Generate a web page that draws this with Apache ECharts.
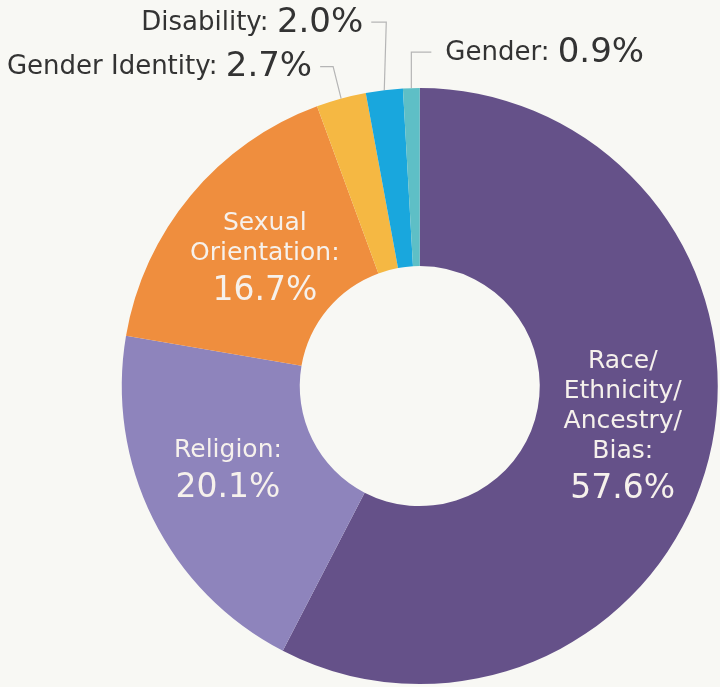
<!DOCTYPE html>
<html>
<head>
<meta charset="utf-8">
<script src="https://cdn.jsdelivr.net/npm/echarts@6/dist/echarts.min.js"></script>
<style>
html,body{margin:0;padding:0;background:#f8f8f4;}
#chart{width:720px;height:687px;}
</style>
</head>
<body>
<div id="chart"></div>
<script>
const categories = ['Race/\nEthnicity/\nAncestry/\nBias', 'Religion', 'Sexual\nOrientation', 'Gender Identity', 'Disability', 'Gender'];
const values = [57.6, 20.1, 16.7, 2.7, 2.0, 0.9];
const colors = ['#655189', '#8e84bc', '#ef8e3e', '#f5b843', '#19a7dd', '#5ebfc6'];
const outside = [false, false, false, true, true, true];

// leader line shapes for outside labels: [dx to elbow, rise, horizontal run]
const leaders = {
  3: { dx: -8, rise: 32, run: -13 },
  4: { dx: 2, rise: 68, run: -15 },
  5: { dx: 0, rise: 36, run: 20 }
};
// nudges for inside labels
const insideShift = {
  0: [-3, -7],
  1: [-2, -7],
  2: [8, 11]
};

const chart = echarts.init(document.getElementById('chart'));
const data = categories.map((c, i) => ({
  name: c,
  value: values[i],
  itemStyle: { color: colors[i] },
  label: outside[i] ? {
    position: 'outside',
    formatter: p => '{n|' + p.name + ': }{v|' + p.value.toFixed(1) + '%}',
    rich: {
      n: { fontSize: 26, color: '#333', fontFamily: 'DejaVu Sans' },
      v: { fontSize: 34, color: '#333', fontFamily: 'DejaVu Sans' }
    }
  } : {
    position: 'inside',
    formatter: p => '{n|' + p.name + ':}\n{v|' + p.value.toFixed(1) + '%}',
    rich: {
      n: { fontSize: 25, lineHeight: 30, color: '#f6f1ec', fontFamily: 'DejaVu Sans', align: 'center' },
      v: { fontSize: 33, lineHeight: 46, color: '#f6f1ec', fontFamily: 'DejaVu Sans', align: 'center' }
    }
  },
  labelLine: { show: outside[i], lineStyle: { color: '#b5b5b5', width: 1.2 } }
}));

chart.setOption({
  backgroundColor: '#f8f8f4',
  animation: false,
  series: [{
    type: 'pie',
    center: ['58.3%', '56.2%'],
    radius: [120, 298],
    startAngle: 90,
    clockwise: true,
    avoidLabelOverlap: false,
    emphasis: { disabled: true },
    data: data,
    labelLayout: function (params) {
      const sh = insideShift[params.dataIndex];
      if (sh) return { dx: sh[0], dy: sh[1] };
      const cfg = leaders[params.dataIndex];
      if (!cfg || !params.labelLinePoints) return {};
      const p0 = params.labelLinePoints[0];
      const p1 = [p0[0] + cfg.dx, p0[1] - cfg.rise];
      const p2 = [p1[0] + cfg.run, p1[1]];
      const right = cfg.run < 0;
      return {
        x: p2[0] + (right ? -8 : 14),
        y: p2[1] + 1,
        align: right ? 'right' : 'left',
        verticalAlign: 'middle',
        labelLinePoints: [p0, p1, p2]
      };
    }
  }]
});
</script>
</body>
</html>
